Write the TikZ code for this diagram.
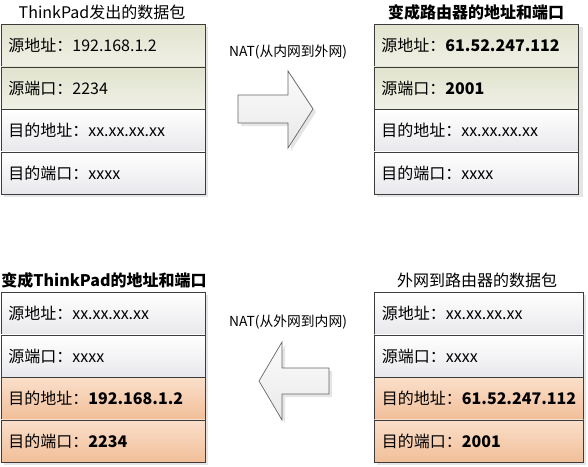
\documentclass[tikz,border=0pt]{standalone}
\usepackage{fontspec}
\setmainfont{Noto Sans CJK SC}
\definecolor{edge}{HTML}{3C3C3C}
\definecolor{grTop}{HTML}{E1E3CE}
\definecolor{grBot}{HTML}{F0F1E6}
\definecolor{whTop}{HTML}{FFFFFF}
\definecolor{whBot}{HTML}{E8E8EC}
\definecolor{peTop}{HTML}{FADFCA}
\definecolor{peBot}{HTML}{F1BE98}
\definecolor{arTop}{HTML}{FBFBFB}
\definecolor{arBot}{HTML}{E9E9E9}
\begin{document}
\begin{tikzpicture}[x=1pt,y=-1pt,
  cell/.style={draw=edge, line width=0.8pt, anchor=north west, minimum height=42.5pt,
    inner xsep=7.5pt, align=left, font=\fontsize{16}{19}\selectfont},
  narrow/.style={text width=189pt},
  wide/.style={text width=194pt},
  grn/.style={top color=grTop, bottom color=grBot},
  wht/.style={top color=whTop, bottom color=whBot},
  pch/.style={top color=peTop, bottom color=peBot},
  ttl/.style={font=\fontsize{16}{19}\selectfont, inner sep=0pt},
  natlbl/.style={font=\fontsize{13.8}{16}\selectfont, inner sep=0pt},
  bigarrow/.style={draw=black!60, line width=0.7pt, top color=arTop, bottom color=arBot},
  shadow/.style={fill=black!10, draw=none}]
\useasboundingbox (0,0) rectangle (588,466);
% shadows
\fill[shadow] (4,27) rectangle (208,197);
\fill[shadow] (377,27) rectangle (583,197);
\fill[shadow] (4,295) rectangle (208,465);
\fill[shadow] (377,295) rectangle (586,465);
% titles
\node[ttl] (ttl) at (102,12) {ThinkPad发出的数据包};
\node[ttl] (ttr) at (476,12) {\textbf{变成路由器的地址和端口}};
\node[ttl] (tbl) at (104,280) {\textbf{变成ThinkPad的地址和端口}};
\node[ttl] (tbr) at (477,280) {外网到路由器的数据包};
% top-left table
\node[cell,narrow,grn] (tl1) at (0.5,24) {源地址：192.168.1.2};
\node[cell,narrow,grn] (tl2) at (0.5,66.5) {源端口：2234};
\node[cell,narrow,wht] (tl3) at (0.5,109) {目的地址：xx.xx.xx.xx};
\node[cell,narrow,wht] (tl4) at (0.5,151.5) {目的端口：xxxx};
% top-right table
\node[cell,narrow,grn] (tr1) at (373.5,24) {源地址：\textbf{61.52.247.112}};
\node[cell,narrow,grn] (tr2) at (373.5,66.5) {源端口：\textbf{2001}};
\node[cell,narrow,wht] (tr3) at (373.5,109) {目的地址：xx.xx.xx.xx};
\node[cell,narrow,wht] (tr4) at (373.5,151.5) {目的端口：xxxx};
% bottom-left table
\node[cell,narrow,wht] (bl1) at (0.5,292) {源地址：xx.xx.xx.xx};
\node[cell,narrow,wht] (bl2) at (0.5,334.5) {源端口：xxxx};
\node[cell,narrow,pch] (bl3) at (0.5,377) {目的地址：\textbf{192.168.1.2}};
\node[cell,narrow,pch] (bl4) at (0.5,419.5) {目的端口：\textbf{2234}};
% bottom-right table
\node[cell,wide,wht] (br1) at (374,292) {源地址：xx.xx.xx.xx};
\node[cell,wide,wht] (br2) at (374,334.5) {源端口：xxxx};
\node[cell,wide,pch] (br3) at (374,377) {目的地址：\textbf{61.52.247.112}};
\node[cell,wide,pch] (br4) at (374,419.5) {目的端口：\textbf{2001}};
% NAT labels
\node[natlbl] (nat1) at (288,52) {NAT(从内网到外网)};
\node[natlbl] (nat2) at (288,322) {NAT(从外网到内网)};
% big arrows
\fill[shadow] (241,98)--(291,98)--(291,74)--(316,112)--(291,151)--(291,126)--(241,126)--cycle;
\path[bigarrow] (238,95)--(288,95)--(288,71)--(313,109)--(288,148)--(288,123)--(238,123)--cycle;
\fill[shadow] (262,384)--(285,345)--(285,371)--(332,371)--(332,397)--(285,397)--(285,423)--cycle;
\path[bigarrow] (259,381)--(282,342)--(282,368)--(329,368)--(329,394)--(282,394)--(282,420)--cycle;
\end{tikzpicture}
\end{document}
